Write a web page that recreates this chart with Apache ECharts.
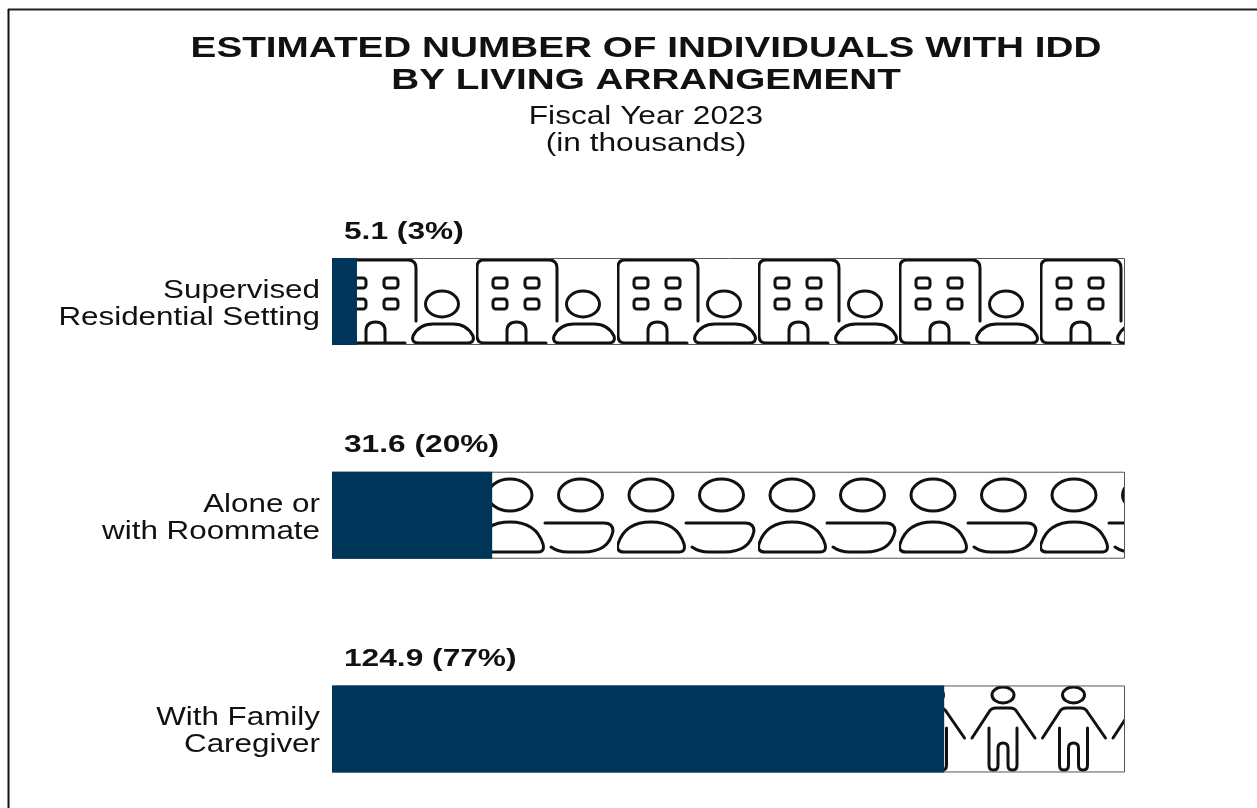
<!DOCTYPE html>
<html>
<head>
<meta charset="utf-8">
<style>
html, body { margin: 0; padding: 0; background: #fff; }
#main { width: 1257px; height: 808px; }
</style>
<script src="https://cdn.jsdelivr.net/npm/echarts@6/dist/echarts.min.js"></script>
</head>
<body>
<div id="main"></div>
<script>
var categories = ["Supervised\nResidential Setting", "Alone or\nwith Roommate", "With Family\nCaregiver"];
// width of the filled bar as share of the track
var shareValues = [3.15, 20.2, 77.2];
var trackValues = [100, 100, 100];
var valueLabels = ["5.1 (3%)", "31.6 (20%)", "124.9 (77%)"];
var titleText = "ESTIMATED NUMBER OF INDIVIDUALS WITH IDD\nBY LIVING ARRANGEMENT";
var subtitleText = "Fiscal Year 2023\n(in thousands)";

var FONT = "Liberation Sans";
var BLUE = "#00355a";
var INK = "#111";

function newTile(draw) {
    var c = document.createElement("canvas");
    c.width = 141;
    c.height = 120;
    var ctx = c.getContext("2d");
    ctx.strokeStyle = "#111";
    ctx.lineWidth = 3;
    ctx.lineCap = "round";
    ctx.lineJoin = "round";
    draw(ctx);
    return c;
}

function ellipse(ctx, x, y, rx, ry) {
    ctx.beginPath();
    ctx.ellipse(x, y, rx, ry, 0, 0, Math.PI * 2);
    ctx.stroke();
}

function roundBox(ctx, x, y, w, h, r) {
    ctx.beginPath();
    ctx.roundRect(x, y, w, h, r);
    ctx.stroke();
}

// building + person
var buildingTile = newTile(function (ctx) {
    ctx.beginPath();
    ctx.moveTo(70, 85);
    ctx.lineTo(8, 85);
    ctx.quadraticCurveTo(1, 85, 1, 78);
    ctx.lineTo(1, 9);
    ctx.quadraticCurveTo(1, 2, 8, 2);
    ctx.lineTo(73, 2);
    ctx.quadraticCurveTo(81, 2, 81, 10);
    ctx.lineTo(81, 63);
    ctx.stroke();
    [17, 49].forEach(function (x) {
        roundBox(ctx, x, 20, 14, 10, 3);
        roundBox(ctx, x, 41, 14, 10, 3);
    });
    ctx.beginPath();
    ctx.moveTo(31, 85);
    ctx.lineTo(31, 73);
    ctx.quadraticCurveTo(31, 64, 40.5, 64);
    ctx.quadraticCurveTo(50, 64, 50, 73);
    ctx.lineTo(50, 85);
    ctx.stroke();
    ellipse(ctx, 107, 46, 16.5, 13);
    ctx.beginPath();
    ctx.moveTo(84, 85);
    ctx.lineTo(132, 85);
    ctx.quadraticCurveTo(140, 85, 138, 78);
    ctx.quadraticCurveTo(132, 66, 118, 66);
    ctx.lineTo(98, 66);
    ctx.quadraticCurveTo(84, 66, 78, 78);
    ctx.quadraticCurveTo(76, 85, 84, 85);
    ctx.stroke();
});

// upright person + flipped person
var roommateTile = newTile(function (ctx) {
    ellipse(ctx, 34, 23, 22, 16);
    ellipse(ctx, 104.5, 23, 22, 16);
    ctx.beginPath();
    ctx.moveTo(7, 80);
    ctx.lineTo(62, 80);
    ctx.quadraticCurveTo(69, 80, 67, 72);
    ctx.quadraticCurveTo(60, 50, 34, 50);
    ctx.quadraticCurveTo(8, 50, 1, 72);
    ctx.quadraticCurveTo(-1, 80, 7, 80);
    ctx.stroke();
    ctx.beginPath();
    ctx.moveTo(69, 51);
    ctx.lineTo(128, 51);
    ctx.quadraticCurveTo(137, 51, 137, 59);
    ctx.quadraticCurveTo(133, 80, 107, 80);
    ctx.lineTo(92, 80);
    ctx.quadraticCurveTo(82, 80, 75, 75);
    ctx.stroke();
});

// two figures holding hands, period is half the tile
var familyTile = newTile(function (ctx) {
    [35, 105.5].forEach(function (x) {
        ellipse(ctx, x, 9, 11, 8);
        ctx.beginPath();
        ctx.moveTo(x - 31, 52);
        ctx.lineTo(x - 14, 26);
        ctx.quadraticCurveTo(x - 12, 22, x - 7, 22);
        ctx.lineTo(x + 7, 22);
        ctx.quadraticCurveTo(x + 12, 22, x + 14, 26);
        ctx.lineTo(x + 32, 52);
        ctx.stroke();
        ctx.beginPath();
        ctx.moveTo(x - 14, 42);
        ctx.lineTo(x - 14, 79);
        ctx.quadraticCurveTo(x - 14, 84, x - 10, 84);
        ctx.lineTo(x - 9, 84);
        ctx.quadraticCurveTo(x - 5, 84, x - 5, 79);
        ctx.lineTo(x - 5, 62);
        ctx.quadraticCurveTo(x - 5, 57, x, 57);
        ctx.quadraticCurveTo(x + 5, 57, x + 5, 62);
        ctx.lineTo(x + 5, 79);
        ctx.quadraticCurveTo(x + 5, 84, x + 9, 84);
        ctx.lineTo(x + 10, 84);
        ctx.quadraticCurveTo(x + 14, 84, x + 14, 79);
        ctx.lineTo(x + 14, 42);
        ctx.stroke();
    });
});

var tiles = [
    { image: buildingTile, repeat: "repeat", x: 476, y: 258 },
    { image: roommateTile, repeat: "repeat", x: 476, y: 472 },
    { image: familyTile, repeat: "repeat", x: 968, y: 686 }
];

var myChart = echarts.init(document.getElementById("main"));

var option = {
    animation: false,
    backgroundColor: "#fff",
    grid: { left: 332, top: 194.6, width: 793, height: 641.25, outerBoundsMode: "none" },
    xAxis: { type: "value", min: 0, max: 100, show: false },
    yAxis: {
        type: "category",
        inverse: true,
        data: categories,
        axisLine: { show: false },
        axisTick: { show: false },
        axisLabel: { show: false }
    },
    series: [
        {
            type: "bar",
            barWidth: 87,
            barGap: "-100%",
            silent: true,
            data: trackValues.map(function (v, i) {
                return {
                    value: v,
                    itemStyle: { color: tiles[i], borderColor: "#555", borderWidth: 1 }
                };
            })
        },
        {
            type: "bar",
            barWidth: 87,
            barGap: "-100%",
            silent: true,
            itemStyle: { color: BLUE },
            data: shareValues
        }
    ]
};

myChart.setOption(option);

// the reference text is horizontally stretched, labels can't do that so use graphic text
function stretched(text, x, y, size, lineHeight, bold, align, scaleX) {
    return {
        type: "text",
        silent: true,
        x: x,
        y: y,
        scaleX: scaleX,
        style: {
            text: text,
            fill: INK,
            font: (bold ? "bold " : "") + size + "px '" + FONT + "'",
            lineHeight: lineHeight,
            align: align,
            verticalAlign: "middle"
        }
    };
}

var graphics = [
    { type: "line", silent: true, shape: { x1: 8, y1: 9.5, x2: 1257, y2: 9.5 }, style: { stroke: "#222", lineWidth: 2 } },
    { type: "line", silent: true, shape: { x1: 8.5, y1: 9, x2: 8.5, y2: 808 }, style: { stroke: "#111", lineWidth: 2 } },
    stretched(titleText, 646, 65, 30, 32, true, "center", 1.29),
    stretched(subtitleText, 646, 130.5, 25, 27, false, "center", 1.265)
];

categories.forEach(function (name, i) {
    var mid = myChart.convertToPixel({ yAxisIndex: 0 }, i);
    graphics.push(stretched(name, 320, mid + 3, 25, 27, false, "right", 1.255));
    graphics.push(stretched(valueLabels[i], 344, mid - 69.5, 24, 27, true, "left", 1.32));
});

myChart.setOption({ graphic: graphics });
</script>
</body>
</html>
